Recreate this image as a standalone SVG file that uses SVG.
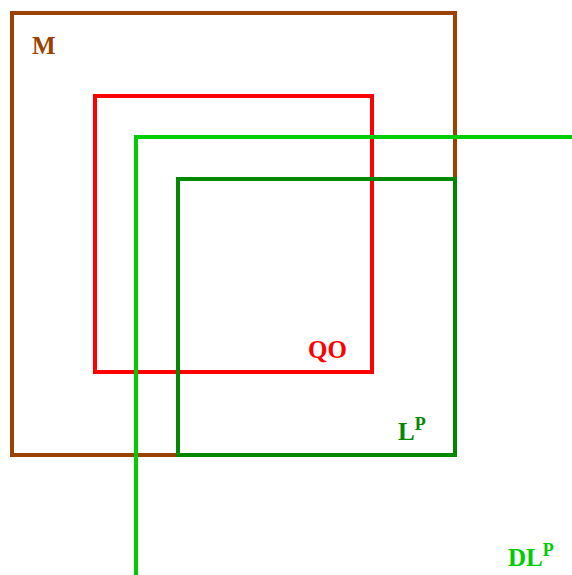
<svg xmlns="http://www.w3.org/2000/svg" width="572" height="575" viewBox="0 0 572 575">
<style>
.b{fill:none;stroke-width:4}
text{font-family:"Liberation Serif","DejaVu Serif",serif;font-weight:bold;font-size:25px}
.s{font-size:18px}
</style>
<rect width="572" height="575" fill="#fff"/>
<g id="M"><rect class="b" x="12" y="13" width="443" height="442" stroke="#9C4200"/><text x="32" y="54" fill="#9C4200">M</text></g>
<g id="QO"><rect class="b" x="95" y="96" width="277" height="276" stroke="#FF0000"/><text x="308" y="358" fill="#FF0000">QO</text></g>
<g id="DLp"><polyline class="b" points="136,575 136,137 572,137" stroke="#00CC00"/><text x="508" y="566" fill="#00CC00">DL<tspan class="s" dy="-10">P</tspan></text></g>
<g id="Lp"><rect class="b" x="178" y="179" width="277" height="276" stroke="#008800"/><text x="398" y="440" fill="#008800">L<tspan class="s" dy="-10">P</tspan></text></g>
<g id="connectors"/>
</svg>
